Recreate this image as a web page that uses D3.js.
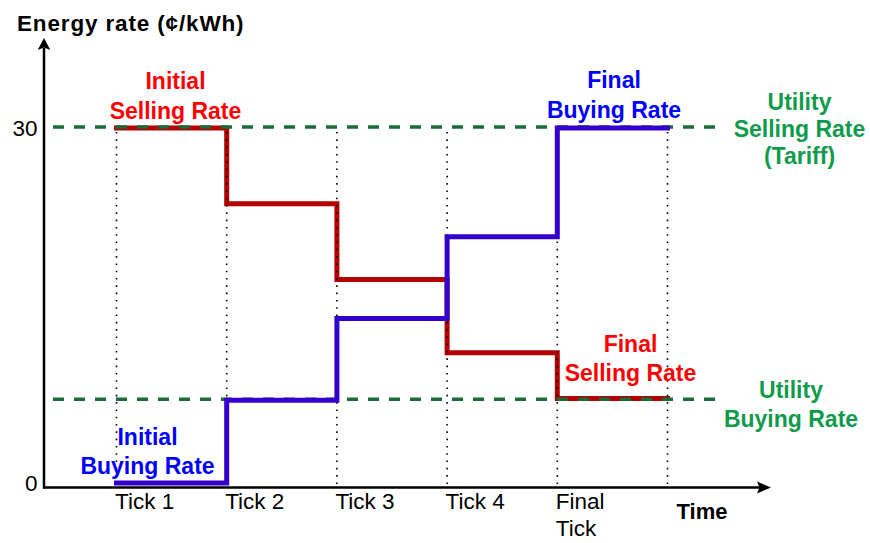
<!DOCTYPE html>
<html>
<head>
<meta charset="utf-8">
<script src="https://cdn.jsdelivr.net/npm/d3@7"></script>
<style>
  html, body { margin: 0; padding: 0; background: #fff; }
  svg { display: block; font-family: "Liberation Sans", Arial, sans-serif; }
</style>
</head>
<body>
<svg id="chart" width="870" height="543"></svg>
<script>
// ---- data ----
const tickLabels = ["Tick 1", "Tick 2", "Tick 3", "Tick 4", "Final\nTick"];
const stepIndex = [0, 1, 2, 3, 4, 5];
const sellingRate = [30, 23.6, 17.2, 11, 7.15];
const buyingRate = [0, 7, 13.9, 20.8, 30];
const utilitySellingRate = 30;
const utilityBuyingRate = 7;
const yTickValues = [0, 30];
const yTitle = "Energy rate (¢/kWh)";
const xTitle = "Time";

// ---- setup ----
const svg = d3.select("#chart");
const x = d3.scaleLinear().domain([0, 5]).range([116.5, 667.5]);
const y = d3.scaleLinear().domain([0, 30]).range([483, 128]);
const axisY = 487.5, axisX = 44;

const colors = {
  sellLine: "#b30000", buyLine: "#3300cc", utility: "#1a6b3a",
  red: "#ff0000", blue: "#0000ff", green: "#109a4c"
};

function stepPoints(vals) {
  const pts = vals.map((v, i) => [stepIndex[i], v]);
  pts.push([stepIndex[vals.length], vals[vals.length - 1]]);
  return pts;
}
const stepLine = d3.line().x(d => x(d[0])).y(d => y(d[1])).curve(d3.curveStepAfter);

// red selling line (bottom layer)
svg.append("path").attr("d", stepLine(stepPoints(sellingRate)))
  .attr("fill", "none").attr("stroke", colors.sellLine).attr("stroke-width", 5)
  .attr("stroke-linejoin", "miter").attr("stroke-linecap", "square");

// utility dashed lines
[utilitySellingRate, utilityBuyingRate].forEach(v => {
  svg.append("line").attr("x1", 53).attr("x2", 717)
    .attr("y1", y(v) - 1).attr("y2", y(v) - 1)
    .attr("stroke", colors.utility).attr("stroke-width", 3.5)
    .attr("stroke-dasharray", "11,10");
});

// dotted tick guides
svg.selectAll("line.guide").data(stepIndex).enter().append("line")
  .attr("class", "guide")
  .attr("x1", d => x(d)).attr("x2", d => x(d))
  .attr("y1", y(30) + 4).attr("y2", axisY)
  .attr("stroke", "#000").attr("stroke-width", 1.6)
  .attr("stroke-dasharray", "1.6,5.7");

// blue buying line (top)
svg.append("path").attr("d", stepLine(stepPoints(buyingRate)))
  .attr("fill", "none").attr("stroke", colors.buyLine).attr("stroke-width", 5)
  .attr("stroke-linejoin", "miter").attr("stroke-linecap", "square");

// axes
svg.append("line").attr("x1", axisX).attr("x2", axisX).attr("y1", axisY + 1).attr("y2", 48)
  .attr("stroke", "#000").attr("stroke-width", 2.5);
svg.append("line").attr("x1", axisX - 1).attr("x2", 760).attr("y1", axisY).attr("y2", axisY)
  .attr("stroke", "#000").attr("stroke-width", 2.5);
svg.append("path").attr("d", `M${axisX},38 L${axisX + 6.3},50 L${axisX},47.5 L${axisX - 6.3},50 Z`).attr("fill", "#000");
svg.append("path").attr("d", `M771,${axisY} L757,${axisY - 6} L759.5,${axisY} L757,${axisY + 6} Z`).attr("fill", "#000");

// y tick labels
svg.selectAll("text.ytick").data(yTickValues).enter().append("text")
  .attr("class", "ytick")
  .attr("x", 37.5).attr("y", d => y(d) + 8)
  .attr("text-anchor", "end").attr("font-size", 22.5).attr("fill", "#000")
  .text(d => d);

// x tick labels
tickLabels.forEach((t, i) => {
  const txt = svg.append("text").attr("font-size", 22.5).attr("fill", "#000")
    .attr("x", x(i) - 2).attr("y", 508.5);
  t.split("\n").forEach((ln, j) => {
    txt.append("tspan").attr("x", x(i) - 1.5).attr("dy", j ? 27 : 0).text(ln);
  });
});

// titles
svg.append("text").attr("x", 17).attr("y", 31).attr("font-size", 22.5).attr("font-weight", "bold")
  .attr("letter-spacing", 0.85).text(yTitle);
svg.append("text").attr("x", 676.5).attr("y", 518.5).attr("font-size", 22).attr("font-weight", "bold")
  .text(xTitle);

// annotations
function label(lines, cx, baseline, lh, color) {
  const t = svg.append("text").attr("text-anchor", "middle").attr("font-size", 23)
    .attr("font-weight", "bold").attr("fill", color);
  lines.forEach((ln, j) => {
    t.append("tspan").attr("x", cx).attr("y", baseline + j * lh).text(ln);
  });
}
label(["Initial", "Selling Rate"], 175.5, 88.5, 30, colors.red);
label(["Initial", "Buying Rate"], 147.5, 445, 28.5, colors.blue);
label(["Final", "Buying Rate"], 614, 87.5, 30, colors.blue);
label(["Final", "Selling Rate"], 630.5, 352, 28.5, colors.red);
label(["Utility", "Selling Rate", "(Tariff)"], 799.5, 110, 27, colors.green);
label(["Utility", "Buying Rate"], 791, 398, 29, colors.green);
</script>
</body>
</html>
